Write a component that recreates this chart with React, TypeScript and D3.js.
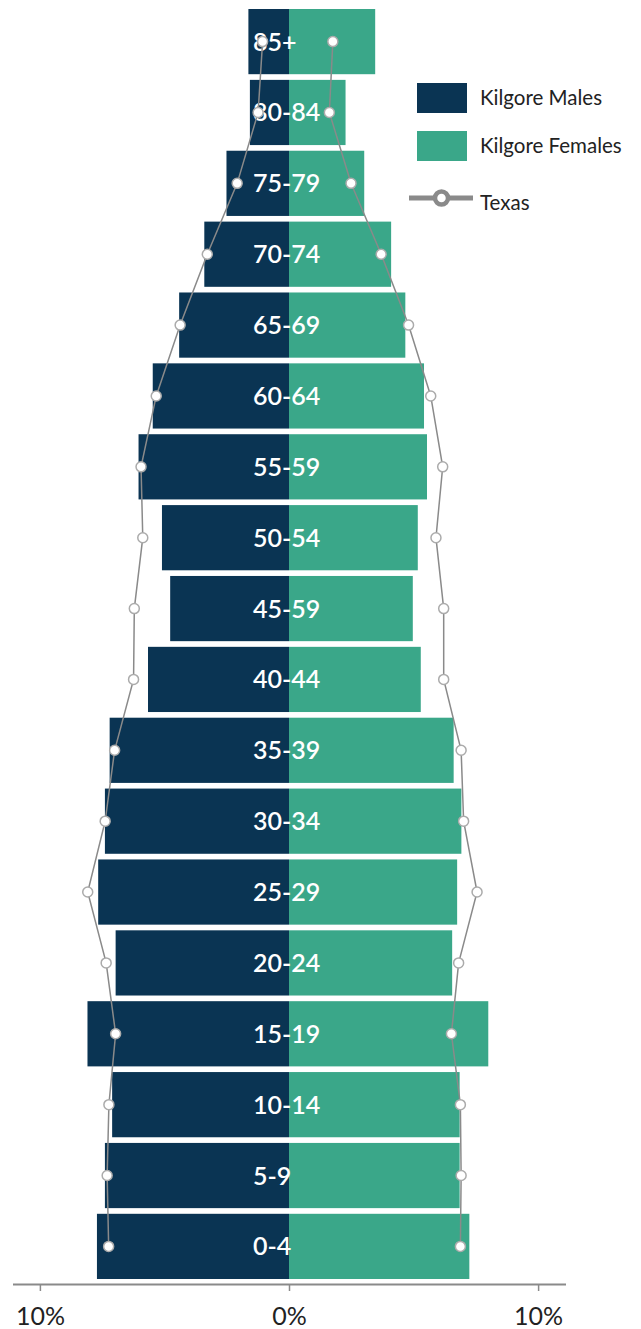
import React, { useEffect, useRef } from "react";
import * as d3 from "d3";

// Age bands, youngest first
const ageGroups = [
  "0-4", "5-9", "10-14", "15-19", "20-24", "25-29", "30-34", "35-39", "40-44",
  "45-59", "50-54", "55-59", "60-64", "65-69", "70-74", "75-79", "80-84", "85+",
];

// Share of total population (%) per age band
const kilgoreMales = [
  7.71, 7.39, 7.1, 8.09, 6.96, 7.66, 7.39, 7.2, 5.66,
  4.77, 5.1, 6.04, 5.47, 4.41, 3.4, 2.51, 1.57, 1.63,
];
const kilgoreFemales = [
  7.24, 6.85, 6.85, 8.0, 6.55, 6.75, 6.92, 6.61, 5.29,
  4.97, 5.17, 5.54, 5.42, 4.67, 4.1, 3.02, 2.27, 3.46,
];
const texasMales = [
  7.24, 7.3, 7.23, 6.96, 7.34, 8.08, 7.38, 7.0, 6.24,
  6.21, 5.87, 5.94, 5.33, 4.37, 3.28, 2.08, 1.24, 1.06,
];
const texasFemales = [
  6.88, 6.91, 6.88, 6.52, 6.81, 7.55, 7.01, 6.91, 6.21,
  6.21, 5.9, 6.17, 5.69, 4.8, 3.7, 2.49, 1.62, 1.76,
];

const tickValues = [-10, 0, 10];
const legendItems = ["Kilgore Males", "Kilgore Females", "Texas"];

const W = 641;
const H = 1329;
const MALE = "#0a3453";
const FEMALE = "#3aa789";
const GREY = "#8a8a8a";
const FONT = "Lato, 'Open Sans', sans-serif";

export default function App() {
  const ref = useRef<SVGSVGElement | null>(null);

  useEffect(() => {
    const svg = d3.select(ref.current);
    svg.selectAll("*").remove();

    const x = d3.scaleLinear().domain([-11.1, 11.1]).range([12.5, 565.5]);
    const y = d3
      .scaleBand<string>()
      .domain([...ageGroups].reverse())
      .range([9, 1279])
      .paddingInner(0.08)
      .paddingOuter(0);

    const rows = ageGroups.map((g, i) => ({
      g,
      km: kilgoreMales[i],
      kf: kilgoreFemales[i],
      tm: texasMales[i],
      tf: texasFemales[i],
    }));

    // Male bars (left)
    svg
      .append("g")
      .selectAll("rect")
      .data(rows)
      .join("rect")
      .attr("x", (d) => x(-d.km))
      .attr("y", (d) => y(d.g)!)
      .attr("width", (d) => x(0) - x(-d.km))
      .attr("height", y.bandwidth())
      .attr("fill", MALE);

    // Female bars (right)
    svg
      .append("g")
      .selectAll("rect")
      .data(rows)
      .join("rect")
      .attr("x", x(0))
      .attr("y", (d) => y(d.g)!)
      .attr("width", (d) => x(d.kf) - x(0))
      .attr("height", y.bandwidth())
      .attr("fill", FEMALE);

    // Age labels
    svg
      .append("g")
      .selectAll("text")
      .data(rows)
      .join("text")
      .attr("x", x(0) - 36)
      .attr("y", (d) => y(d.g)! + y.bandwidth() / 2)
      .attr("dy", "0.36em")
      .attr("fill", "#fff")
      .attr("font-family", FONT)
      .attr("font-weight", 600)
      .attr("font-size", 25)
      .text((d) => d.g);

    // Texas comparison lines
    const cy = (d: { g: string }) => y(d.g)! + y.bandwidth() / 2;
    const lineM = d3
      .line<(typeof rows)[number]>()
      .x((d) => x(-d.tm))
      .y(cy);
    const lineF = d3
      .line<(typeof rows)[number]>()
      .x((d) => x(d.tf))
      .y(cy);

    const tx = svg.append("g");
    [lineM, lineF].forEach((ln) => {
      tx.append("path")
        .datum(rows)
        .attr("d", ln)
        .attr("fill", "none")
        .attr("stroke", GREY)
        .attr("stroke-width", 1.5);
    });
    const dotData = rows.flatMap((d) => [
      { cx: x(-d.tm), cy: cy(d) },
      { cx: x(d.tf), cy: cy(d) },
    ]);
    tx.selectAll("circle")
      .data(dotData)
      .join("circle")
      .attr("cx", (d) => d.cx)
      .attr("cy", (d) => d.cy)
      .attr("r", 5)
      .attr("fill", "#fff")
      .attr("stroke", "#ababab")
      .attr("stroke-width", 1.5);

    // Bottom axis
    const axis = d3
      .axisBottom(x)
      .tickValues(tickValues)
      .tickSize(7)
      .tickSizeOuter(0)
      .tickPadding(16)
      .tickFormat((v) => `${Math.abs(+v)}%`);
    const ag = svg.append("g").attr("transform", "translate(0,1284)").call(axis);
    ag.select(".domain").attr("stroke", GREY).attr("stroke-width", 2);
    ag.selectAll(".tick line").attr("stroke", GREY).attr("stroke-width", 1.5);
    ag.selectAll(".tick text")
      .attr("fill", "#222")
      .attr("font-family", FONT)
      .attr("font-size", 25);

    // Legend
    const lg = svg.append("g");
    const swatchColors = [MALE, FEMALE];
    const rowY = [98, 146, 198];
    swatchColors.forEach((c, i) => {
      lg.append("rect")
        .attr("x", 417)
        .attr("y", rowY[i] - 15)
        .attr("width", 50)
        .attr("height", 30)
        .attr("fill", c);
    });
    lg.append("line")
      .attr("x1", 409)
      .attr("x2", 473)
      .attr("y1", rowY[2])
      .attr("y2", rowY[2])
      .attr("stroke", GREY)
      .attr("stroke-width", 5);
    lg.append("circle")
      .attr("cx", 441.5)
      .attr("cy", rowY[2])
      .attr("r", 6.5)
      .attr("fill", "#fff")
      .attr("stroke", GREY)
      .attr("stroke-width", 4.5);
    legendItems.forEach((t, i) => {
      lg.append("text")
        .attr("x", 480)
        .attr("y", rowY[i] + (i === 2 ? 5 : 0))
        .attr("dy", "0.35em")
        .attr("fill", "#222")
        .attr("font-family", FONT)
        .attr("font-size", 20.5)
        .text(t);
    });
  }, []);

  return (
    <svg
      ref={ref}
      width={W}
      height={H}
      style={{ position: "absolute", left: 0, top: 0, background: "#fff" }}
    />
  );
}
